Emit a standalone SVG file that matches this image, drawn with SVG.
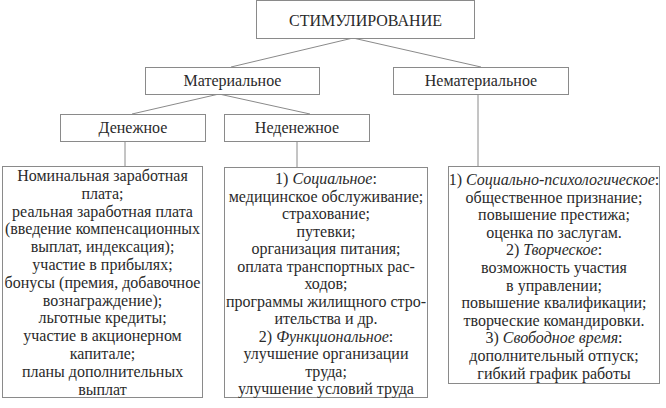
<svg xmlns="http://www.w3.org/2000/svg" width="666" height="408" viewBox="0 0 666 408">
<style>
.box{fill:#fff;stroke:#8a8a8a;stroke-width:1}
text{font-family:'Liberation Serif','Times New Roman','DejaVu Serif',serif;font-size:16px;fill:#2a2a2a;text-anchor:middle}
.i{font-style:italic}
.c{stroke:#8a8a8a;stroke-width:1;fill:none}
</style>
<rect width="666" height="408" fill="#fff"/>
<g id="connectors">
<path class="c" d="M353 38 L231 67 M353 38 L481 67 M219 94 L132 114 M219 94 L310 114 M125 142 V166 M297 142 V167 M478 94 V166"/>
</g>
<g id="stim"><rect class="box" x="256.5" y="0.5" width="218" height="38"/><text x="365.5" y="26">СТИМУЛИРОВАНИЕ</text></g>
<g id="mat"><rect class="box" x="145.5" y="67.5" width="174" height="27"/><text x="232.5" y="86">Материальное</text></g>
<g id="nemat"><rect class="box" x="393.5" y="67.5" width="175" height="27"/><text x="481" y="86">Нематериальное</text></g>
<g id="den"><rect class="box" x="60.5" y="114.5" width="145" height="27"/><text x="133" y="133">Денежное</text></g>
<g id="neden"><rect class="box" x="224.5" y="114.5" width="145" height="27"/><text x="297" y="133">Неденежное</text></g>
<g id="den-list"><rect class="box" x="2.5" y="166.5" width="200" height="231"/>
<text x="102.5" y="181">Номинальная заработная</text>
<text x="102.5" y="198.8">плата;</text>
<text x="102.5" y="216.6">реальная заработная плата</text>
<text x="102.5" y="234.4">(введение компенсационных</text>
<text x="102.5" y="252.2">выплат, индексация);</text>
<text x="102.5" y="270">участие в прибылях;</text>
<text x="102.5" y="287.8">бонусы (премия, добавочное</text>
<text x="102.5" y="305.6">вознаграждение);</text>
<text x="102.5" y="323.4">льготные кредиты;</text>
<text x="102.5" y="341.2">участие в акционерном</text>
<text x="102.5" y="359">капитале;</text>
<text x="102.5" y="376.8">планы дополнительных</text>
<text x="102.5" y="394.6">выплат</text>
</g>
<g id="neden-list"><rect class="box" x="224.5" y="167.5" width="203" height="230"/>
<text x="326" y="184">1) <tspan class="i">Социальное</tspan>:</text>
<text x="326" y="201.5">медицинское обслуживание;</text>
<text x="326" y="219">страхование;</text>
<text x="326" y="236.5">путевки;</text>
<text x="326" y="254">организация питания;</text>
<text x="326" y="271.5">оплата транспортных рас-</text>
<text x="326" y="289">ходов;</text>
<text x="326" y="306.5">программы жилищного стро-</text>
<text x="326" y="324">ительства и др.</text>
<text x="326" y="341.5">2) <tspan class="i">Функциональное</tspan>:</text>
<text x="326" y="359">улучшение организации</text>
<text x="326" y="376.5">труда;</text>
<text x="326" y="394">улучшение условий труда</text>
</g>
<g id="nemat-list"><rect class="box" x="448.5" y="166.5" width="211" height="217"/>
<text x="554" y="185">1) <tspan class="i">Социально-психологическое</tspan>:</text>
<text x="554" y="202.6">общественное признание;</text>
<text x="554" y="220.2">повышение престижа;</text>
<text x="554" y="237.8">оценка по заслугам.</text>
<text x="554" y="255.4">2) <tspan class="i">Творческое</tspan>:</text>
<text x="554" y="273">возможность участия</text>
<text x="554" y="290.6">в управлении;</text>
<text x="554" y="308.2">повышение квалификации;</text>
<text x="554" y="325.8">творческие командировки.</text>
<text x="554" y="343.4">3) <tspan class="i">Свободное время</tspan>:</text>
<text x="554" y="361">дополнительный отпуск;</text>
<text x="554" y="378.6">гибкий график работы</text>
</g>
</svg>
